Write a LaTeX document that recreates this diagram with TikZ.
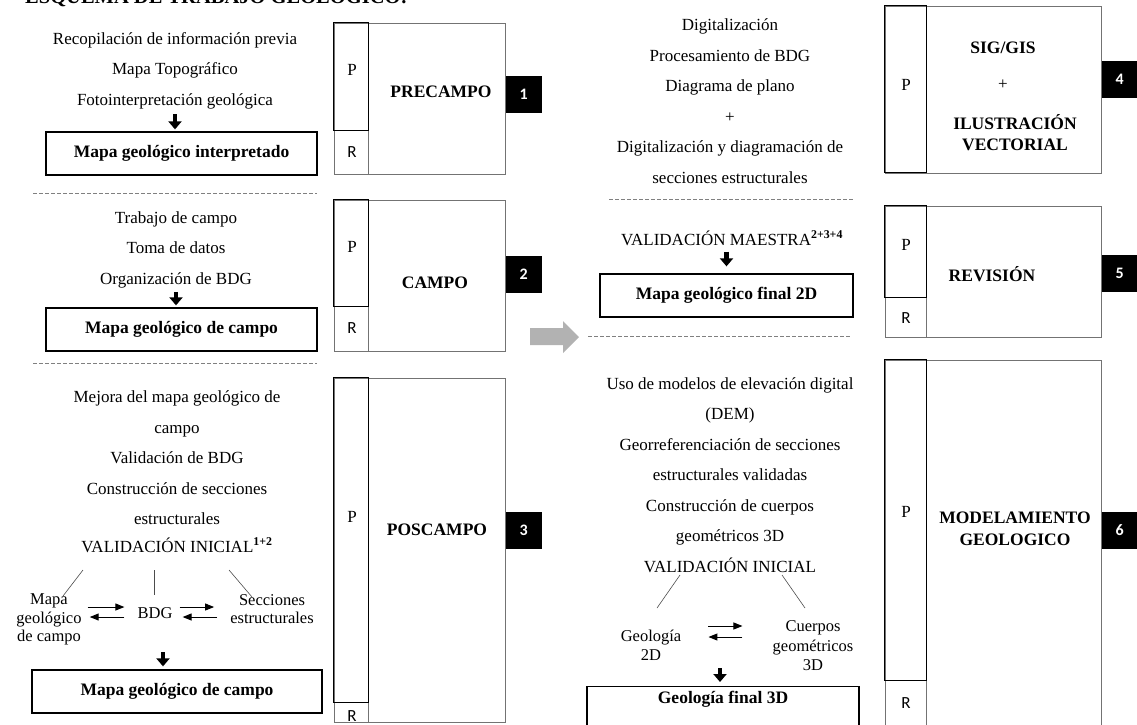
\documentclass[tikz,border=0pt]{standalone}
\usepackage{fontspec}
\setmainfont{Liberation Serif}
\newfontfamily\calibri{Carlito}
\usetikzlibrary{arrows.meta,positioning}

\tikzset{
  lista/.style={align=center, inner sep=0pt, font=\fontsize{17}{30.5}\selectfont},
  sub/.style={align=center, inner sep=0pt, font=\fontsize{16.5}{18.5}\selectfont},
  resultado/.style={draw, line width=1.3pt, inner sep=0pt, font=\bfseries\fontsize{17.5}{20}\selectfont},
  fase/.style={draw=black!55, line width=0.8pt, inner sep=0pt},
  franja/.style={draw, line width=1.3pt},
  celda/.style={draw=black!55, line width=0.8pt},
  etapa/.style={align=center, inner sep=0pt, font=\bfseries\fontsize{17.5}{22}\selectfont},
  letraP/.style={inner sep=0pt, font=\fontsize{17}{20}\selectfont},
  letraR/.style={inner sep=0pt, font=\calibri\fontsize{17}{20}\selectfont},
  numero/.style={fill=black, text=white, inner sep=0pt, minimum width=36pt, minimum height=37pt,
    font=\calibri\bfseries\fontsize{16}{16}\selectfont},
  flechagruesa/.style={line width=4.5pt, -{Triangle[length=8pt,width=13pt]}},
  flechafina/.style={line width=1pt, -{Triangle[length=9pt,width=7pt]}},
  rama/.style={draw=black!70, line width=0.6pt},
  separador/.style={draw=black!50, line width=0.8pt, dash pattern=on 4pt off 2pt},
}

\begin{document}
\begin{tikzpicture}[x=1pt,y=-1pt]
	\useasboundingbox (0,0) rectangle (1137,724);
	
	% Title, cut by the top edge
	\node[anchor=base west, inner sep=0pt, font=\bfseries\fontsize{20.5}{24}\selectfont] (titulo) at (25,3) {ESQUEMA DE TRABAJO GEOLÓGICO:};
	
	% Define left column
	\node[lista] (prelista) at (175,70.5) {Recopilación de información previa\\Mapa Topográfico\\Fotointerpretación geológica};
	\node[resultado, minimum width=271pt, minimum height=43pt] (preres) at (181.5,153.5) {Mapa geológico interpretado};
	\node[lista] (camlista) at (176,249.5) {Trabajo de campo\\Toma de datos\\Organización de BDG};
	\node[resultado, minimum width=271pt, minimum height=43pt] (camres) at (181.5,329.5) {Mapa geológico de campo};
	\node[lista] (poslista) at (177,458) {Mejora del mapa geológico de\\campo\\Validación de BDG\\Construcción de secciones\\estructurales};
	\node[inner sep=0pt, font=\fontsize{17}{20}\selectfont] (valini) at (177,545) {VALIDACIÓN INICIAL\textsuperscript{\bfseries 1+2}};
	\node[sub] (mapa) at (49,619.5) {Mapa\\geológico\\de campo};
	\node[sub] (bdg) at (155,613) {BDG};
	\node[sub] (secc) at (272,609) {Secciones\\estructurales};
	\node[resultado, minimum width=290pt, minimum height=43pt] (posres) at (177,691.5) {Mapa geológico de campo};
	
	% Draw left column arrows
	\draw[flechagruesa, shorten <=5pt, shorten >=2pt] (prelista.south) -- (prelista.south |- preres.north);
	\draw[flechagruesa, shorten <=4pt, shorten >=2pt] (camlista.south) -- (camlista.south |- camres.north);
	\coordinate (vi1) at (83,570); \coordinate (ma1) at (63,596);
	\coordinate (vi2) at (154,570); \coordinate (bd1) at (154,595);
	\coordinate (vi3) at (229,570); \coordinate (se1) at (252,597);
	\draw[rama] (vi1) -- (ma1);
	\draw[rama] (vi2) -- (bd1);
	\draw[rama] (vi3) -- (se1);
	\path ([yshift=6pt]bdg.west) coordinate (bdgR) ([yshift=-4pt]bdg.west) coordinate (bdgL)
	      ([yshift=6pt]bdg.east) coordinate (bdgR2) ([yshift=-4pt]bdg.east) coordinate (bdgL2);
	\draw[flechafina, shorten <=6pt, shorten >=13pt] (mapa.east |- bdgR) -- (bdgR);
	\draw[flechafina, shorten <=13pt, shorten >=8pt] (bdgL) -- (mapa.east |- bdgL);
	\draw[flechafina, shorten <=7pt, shorten >=16pt] (bdgR2) -- (secc.west |- bdgR2);
	\draw[flechafina, shorten <=13pt, shorten >=10pt] (secc.west |- bdgL2) -- (bdgL2);
	\coordinate (fl3) at (163,652);
	\draw[flechagruesa, shorten >=3pt] (fl3) -- (fl3 |- posres.north);
	\path[separador] (33,193) -- (317,193);
	\path[separador] (33,363) -- (317,363);
	
	% Define phase boxes 1-3
	\node[fase, minimum width=171pt, minimum height=151pt] (f1) at (419.5,98.5) {};
	\draw[franja] (f1.north west) rectangle ++(35,108);
	\draw[celda] ([xshift=35pt]f1.south west) -- ++(0,-43);
	\node[letraP] (p1) at (352,70) {P};
	\node[letraR] (r1) at (352,152) {R};
	\node[etapa] (e1) at (441,92) {PRECAMPO};
	\node[numero, anchor=west] (n1) at ([yshift=4pt]f1.east) {1};
	
	\node[fase, minimum width=171pt, minimum height=151pt] (f2) at (419.5,275.5) {};
	\draw[franja] (f2.north west) rectangle ++(35,107);
	\draw[celda] ([xshift=35pt]f2.south west) -- ++(0,-44);
	\node[letraP] (p2) at (352,247) {P};
	\node[letraR] (r2) at (352,328) {R};
	\node[etapa] (e2) at (435,283) {CAMPO};
	\node[numero, anchor=west] (n2) at ([yshift=1pt]f2.east) {2};
	
	\node[fase, minimum width=171pt, minimum height=344pt] (f3) at (419.5,550) {};
	\draw[franja] (f3.north west) rectangle ++(35,325);
	\draw[celda] ([xshift=35pt]f3.south west) -- ++(0,-19);
	\node[letraP] (p3) at (352,517) {P};
	\node[letraR] (r3) at (352,716) {R};
	\node[etapa] (e3) at (437,530) {POSCAMPO};
	\node[numero, anchor=west] (n3) at ([yshift=20pt]f3.east) {3};
	
	% Gray arrow between columns
	\fill[black!30] (530,328) -- (563,328) -- (563,321) -- (579,337) -- (563,353) -- (563,345) -- (530,345) -- cycle;
	
	% Define right column
	\node[lista] (diglista) at (730,101) {Digitalización\\Procesamiento de BDG\\Diagrama de plano\\+\\Digitalización y diagramación de\\secciones estructurales};
	\path[separador] (609,199) -- (853,199);
	\node[inner sep=0pt, font=\fontsize{17}{20}\selectfont] (valmae) at (732,238) {VALIDACIÓN MAESTRA\textsuperscript{\bfseries 2+3+4}};
	\node[resultado, minimum width=253pt, minimum height=43pt] (revres) at (726.5,295.5) {Mapa geológico final 2D};
	\draw[flechagruesa, shorten <=6pt, shorten >=7pt] (valmae.south -| revres.north) -- (revres.north);
	\path[separador] (588,336) -- (850,336);
	\node[lista] (modlista) at (730,461.5) {Uso de modelos de elevación digital\\(DEM)\\Georreferenciación de secciones\\estructurales validadas\\Construcción de cuerpos\\geométricos 3D};
	\node[inner sep=0pt, font=\fontsize{17}{20}\selectfont] (valini2) at (730,565) {VALIDACIÓN INICIAL};
	\node[sub, font=\fontsize{16.5}{19}\selectfont] (geo2d) at (651,645.5) {Geología\\2D};
	\node[sub, font=\fontsize{16.5}{19.5}\selectfont] (cuerpos) at (813,646) {Cuerpos\\geométricos\\3D};
	\node[resultado, minimum width=272pt, text height=17pt, text depth=32pt, anchor=north] (fin3d) at (723,686) {Geología final 3D};
	
	% Draw right column arrows
	\coordinate (vd1) at (680,575); \coordinate (gd1) at (657,608);
	\coordinate (vd2) at (782,575); \coordinate (cu1) at (805,608);
	\draw[rama] (vd1) -- (gd1);
	\draw[rama] (vd2) -- (cu1);
	\path ([yshift=19.5pt]geo2d.east) coordinate (g2R) ([yshift=8.5pt]geo2d.east) coordinate (g2L);
	\draw[flechafina, shorten <=27pt, shorten >=30pt] (g2R) -- (g2R -| cuerpos.west);
	\draw[flechafina, shorten <=30pt, shorten >=27pt] (g2L -| cuerpos.west) -- (g2L);
	\coordinate (fl6) at (720,668);
	\draw[flechagruesa, shorten >=4pt] (fl6) -- (fl6 |- fin3d.north);
	
	% Define phase boxes 4-6
	\node[fase, minimum width=216pt, minimum height=167pt] (f4) at (993,89.5) {};
	\draw[franja] (f4.north west) rectangle ++(42,167);
	\node[letraP] (p4) at (906,85) {P};
	\node[etapa] (e4a) at (1003,48) {SIG/GIS};
	\node[letraP] (e4b) at (1003,85) {+};
	\node[etapa, font=\bfseries\fontsize{17.5}{21}\selectfont] (e4c) at (1015,132.5) {ILUSTRACIÓN\\VECTORIAL};
	\node[numero, anchor=west] (n4) at ([yshift=10pt]f4.east) {4};
	
	\node[fase, minimum width=216pt, minimum height=131pt] (f5) at (993,271.5) {};
	\draw[franja] (f5.north west) rectangle ++(42,92);
	\draw[celda] ([xshift=42pt]f5.south west) -- ++(0,-39);
	\node[letraP] (p5) at (906,245) {P};
	\node[letraR] (r5) at (906,318) {R};
	\node[etapa] (e5) at (992,274) {REVISIÓN};
	\node[numero, anchor=west] (n5) at ([yshift=-1.5pt]f5.east) {5};
	
	\node[fase, minimum width=216pt, minimum height=375pt] (f6) at (993,547.5) {};
	\draw[franja] (f6.north west) rectangle ++(42,321);
	\draw[celda] ([xshift=42pt]f6.south west) -- ++(0,-54);
	\node[letraP] (p6) at (906,512) {P};
	\node[letraR] (r6) at (906,703) {R};
	\node[etapa] (e6) at (1015,529) {MODELAMIENTO\\GEOLOGICO};
	\node[numero, anchor=west] (n6) at ([yshift=17.5pt]f6.east) {6};
\end{tikzpicture}
\end{document}
